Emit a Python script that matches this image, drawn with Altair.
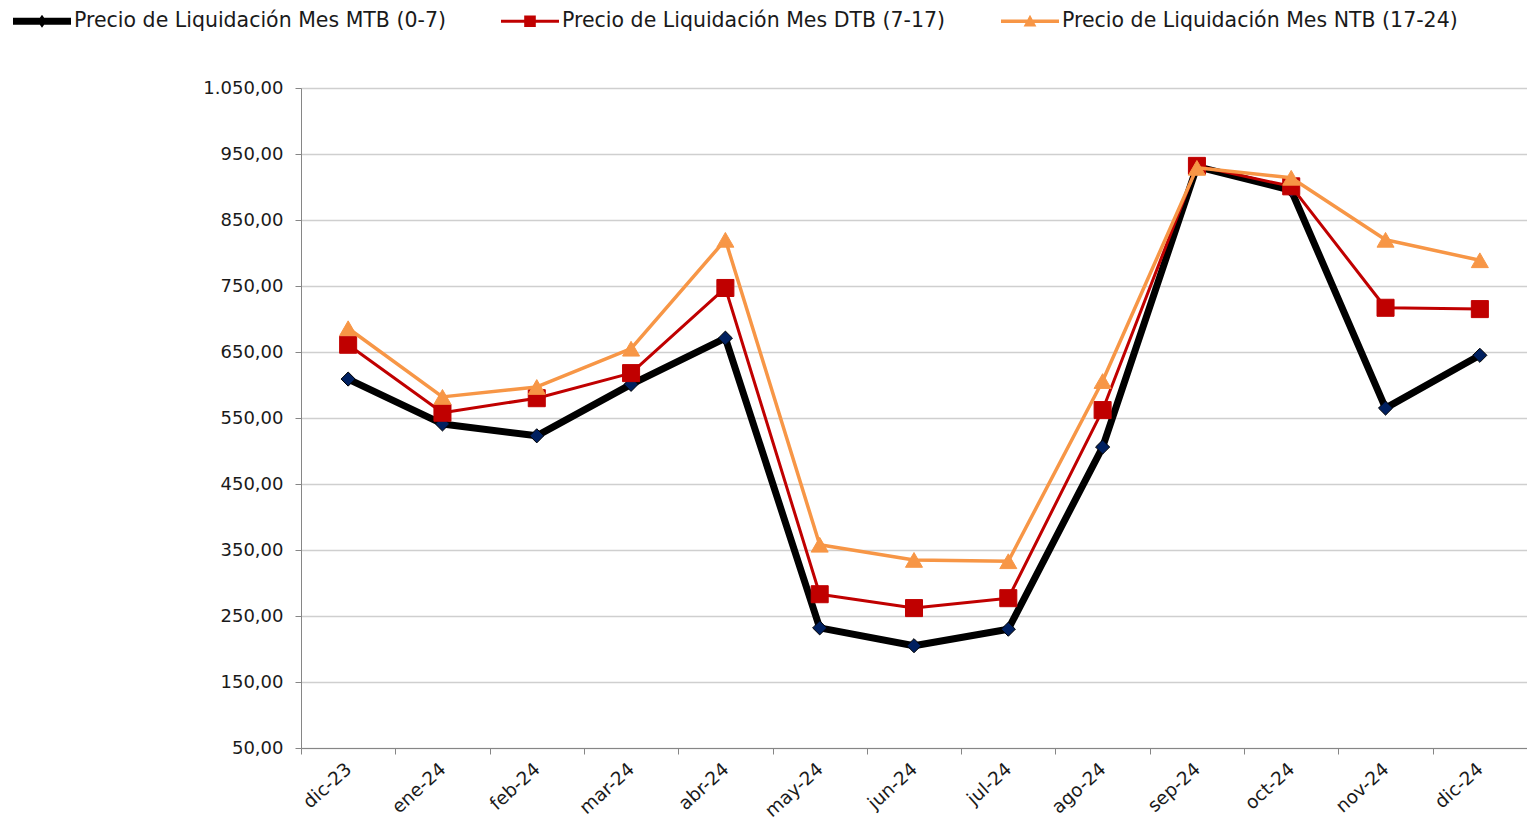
import altair as alt
import pandas as pd

meses = ["dic-23", "ene-24", "feb-24", "mar-24", "abr-24", "may-24", "jun-24",
         "jul-24", "ago-24", "sep-24", "oct-24", "nov-24", "dic-24"]
mtb = [609, 541, 523, 601, 671, 232, 205, 230, 506, 931, 895, 565, 645]
dtb = [661, 558, 580, 618, 747, 283, 262, 277, 562, 932, 901, 717, 715]
ntb = [686, 582, 597, 655, 820, 358, 335, 333, 606, 929, 914, 820, 789]

series_names = ["Precio de Liquidación Mes MTB (0-7)",
                "Precio de Liquidación Mes DTB (7-17)",
                "Precio de Liquidación Mes NTB (17-24)"]
line_colors = ["#000000", "#C00000", "#F79646"]
marker_fill = ["#002060", "#C00000", "#F79646"]
marker_stroke = ["#000000", "#C00000", "#F79646"]
marker_shapes = ["diamond", "square", "triangle-up"]
marker_sizes = [200, 290, 290]
line_widths = [7, 3, 3.5]
legend_paths = [
    "M-1,-0.12H1V0.12H-1Z M0,-0.22L0.16,0L0,0.22L-0.16,0Z",
    "M-1,-0.05H1V0.05H-1Z M-0.2,-0.2H0.2V0.2H-0.2Z",
    "M-1,-0.06H1V0.06H-1Z M0,-0.22L0.22,0.18H-0.22Z",
]
y_ticks = [50, 150, 250, 350, 450, 550, 650, 750, 850, 950, 1050]

rows = []
for name, vals in zip(series_names, [mtb, dtb, ntb]):
    for m, v in zip(meses, vals):
        rows.append({"mes": m, "serie": name, "valor": v})
df = pd.DataFrame(rows)

FONT = "DejaVu Sans"

x_enc = alt.X("mes:N", sort=meses,
              scale=alt.Scale(type="band", paddingInner=0, paddingOuter=0),
              axis=alt.Axis(title=None, labelAngle=-42, labelAlign="right",
                            labelBaseline="middle", labelFontSize=18.5,
                            labelFont=FONT, labelColor="#1a1a1a",
                            labelPadding=12, tickBand="extent", tickSize=6,
                            tickColor="#868686", domainColor="#868686",
                            grid=False, labelOverlap=False))
y_enc = alt.Y("valor:Q",
              scale=alt.Scale(domain=[50, 1050], nice=False, zero=False),
              axis=alt.Axis(title=None, values=y_ticks,
                            labelExpr="replace(replace(replace(format(datum.value, ',.2f'), ',', 'X'), '.', ','), 'X', '.')",
                            labelFontSize=18, labelFont=FONT, labelColor="#1a1a1a",
                            labelPadding=12, tickSize=6, tickColor="#868686",
                            domainColor="#868686", gridColor="#CFCFCF",
                            gridWidth=1.3))

base = alt.Chart(df)

legend_layer = base.mark_point(filled=True, size=1, opacity=1).encode(
    x=x_enc, y=y_enc,
    color=alt.Color("serie:N",
                    scale=alt.Scale(domain=series_names, range=line_colors),
                    legend=alt.Legend(title=None, orient="none", direction="horizontal",
                                      legendX=-288, legendY=-96,
                                      symbolSize=3364, symbolStrokeWidth=0,
                                      symbolOpacity=1, labelFont=FONT,
                                      labelFontSize=20.5, labelColor="#1a1a1a",
                                      labelOffset=3, columnPadding=55,
                                      labelLimit=600)),
    shape=alt.Shape("serie:N",
                    scale=alt.Scale(domain=series_names, range=legend_paths)),
)

layers = [legend_layer]
for i, name in enumerate(series_names):
    sub = base.transform_filter(alt.datum.serie == name)
    layers.append(sub.mark_line(color=line_colors[i], strokeWidth=line_widths[i],
                                strokeJoin="round").encode(x=x_enc, y=y_enc))
    layers.append(sub.mark_point(shape=marker_shapes[i], size=marker_sizes[i],
                                 filled=True, fill=marker_fill[i],
                                 stroke=marker_stroke[i], strokeWidth=1,
                                 opacity=1).encode(x=x_enc, y=y_enc))

chart = alt.layer(*layers).properties(
    width=1226, height=660,
    autosize=alt.AutoSizeParams(type="none"),
    padding={"left": 293, "top": 80, "right": 0, "bottom": 73},
).configure_view(stroke=None).configure(background="white")

chart.save("out.html", embed_options={"renderer": "svg", "actions": False})
